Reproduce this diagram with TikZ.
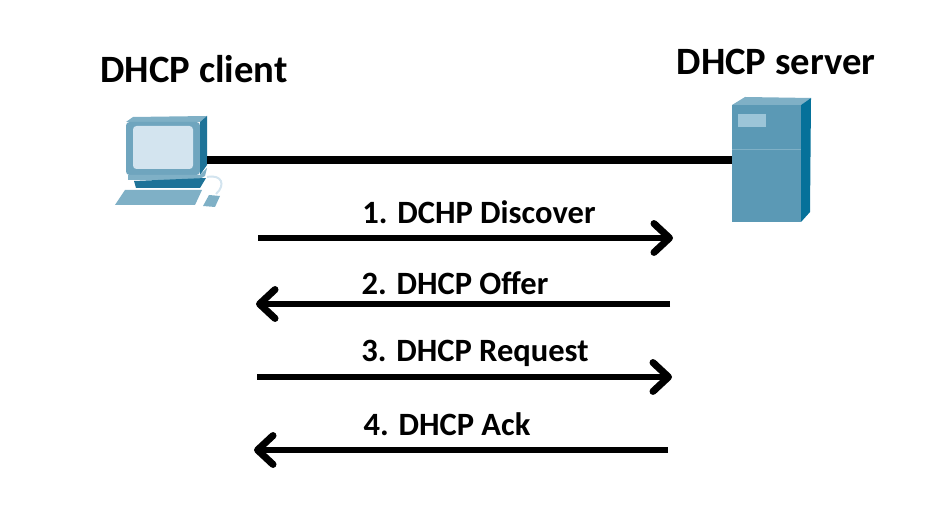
\documentclass[tikz,border=0pt]{standalone}
\usepackage{fontspec}
\setmainfont{Carlito}
\usepackage{xcolor}
\usetikzlibrary{%
  arrows.meta,
  positioning
}
\definecolor{pcfront}{HTML}{6FA5BE}
\definecolor{pcside}{HTML}{1E7398}
\definecolor{pctop}{HTML}{7FB0C6}
\definecolor{pcscreen}{HTML}{D3E4EF}
\definecolor{srvfront}{HTML}{5B99B5}
\definecolor{srvside}{HTML}{05719A}
\definecolor{srvpanel}{HTML}{9CC5D8}
\tikzset{
  devlabel/.style={font=\fontsize{11pt}{13pt}\selectfont\bfseries,inner sep=0pt,anchor=base},
  msglabel/.style={font=\fontsize{9.25pt}{11pt}\selectfont\bfseries,inner sep=0pt,anchor=base},
  link/.style={line width=0.08cm},
  msg/.style={line width=0.055cm,-{Straight Barb[round,length=4.4pt,width=8.2pt,line width=2pt]}}
}
\begin{document}
\begin{tikzpicture}[x=0.01cm,y=-0.01cm]
  \useasboundingbox (0,0) rectangle (949,522);

  % client
  \filldraw[draw=none,fill=pctop] (126,122) -- (133,117) -- (207,116) -- (200,122) -- cycle;
  \filldraw[draw=none,fill=pcfront,rounded corners=1pt] (126,122) rectangle (200,175);
  \filldraw[draw=none,fill=pcside] (200,122) -- (207,116) -- (207,165) -- (200,175) -- cycle;
  \filldraw[draw=none,fill=pcscreen,rounded corners=1pt] (133,126) rectangle (193,169);
  \filldraw[draw=none,fill=pctop] (128,175) -- (200,175) -- (207,168) -- (205,176) -- (198,180) -- (128,180) -- cycle;
  \filldraw[draw=none,fill=pcside] (134,181) -- (206,178) -- (200,188) -- (136,188) -- cycle;
  \filldraw[draw=none,fill=pctop] (115,205) -- (125,190) -- (202,190) -- (195,205) -- cycle;
  \filldraw[draw=none,fill=pctop] (203,206) -- (209,195) -- (220,196) -- (215,207) -- cycle;
  \draw[pcscreen,line width=0.02cm] (207,177) .. controls (222,174) and (226,185) .. (216,194);

  % server
  \filldraw[draw=none,fill=pctop] (732,105) -- (745,97) -- (811,98) -- (801,105) -- cycle;
  \filldraw[draw=none,fill=srvfront] (732,105) rectangle (801,222);
  \filldraw[draw=none,fill=srvside] (801,105) -- (811,98) -- (810,212) -- (801,222) -- cycle;
  \filldraw[draw=none,fill=srvpanel] (738,114) rectangle (766,127);
  \draw[pctop,line width=0.01cm] (732,150) -- (801,150);

  \node[devlabel] (clientlabel) at (194,83) {DHCP client};
  \node[devlabel] (serverlabel) at (776,75) {DHCP server};

  \coordinate (client) at (207,160);
  \coordinate (server) at (732,160);
  \draw[link] (client) -- (server);

  \foreach \name/\txt/\lx/\ly/\ax/\bx/\ay in {%
    discover/{1. DCHP Discover}/479/224/258/673/238,
    offer/{2. DHCP Offer}/455/295/670/256/304,
    request/{3. DHCP Request}/475/362/257/672/377,
    ack/{4. DHCP Ack}/447/436/668/254/450} {
    \node[msglabel] (\name) at (\lx,\ly) {\txt};
    \coordinate (\name a) at (\ax,\ay);
    \coordinate (\name b) at (\bx,\ay);
    \draw[msg] (\name a) -- (\name b);
  }
\end{tikzpicture}
\end{document}
